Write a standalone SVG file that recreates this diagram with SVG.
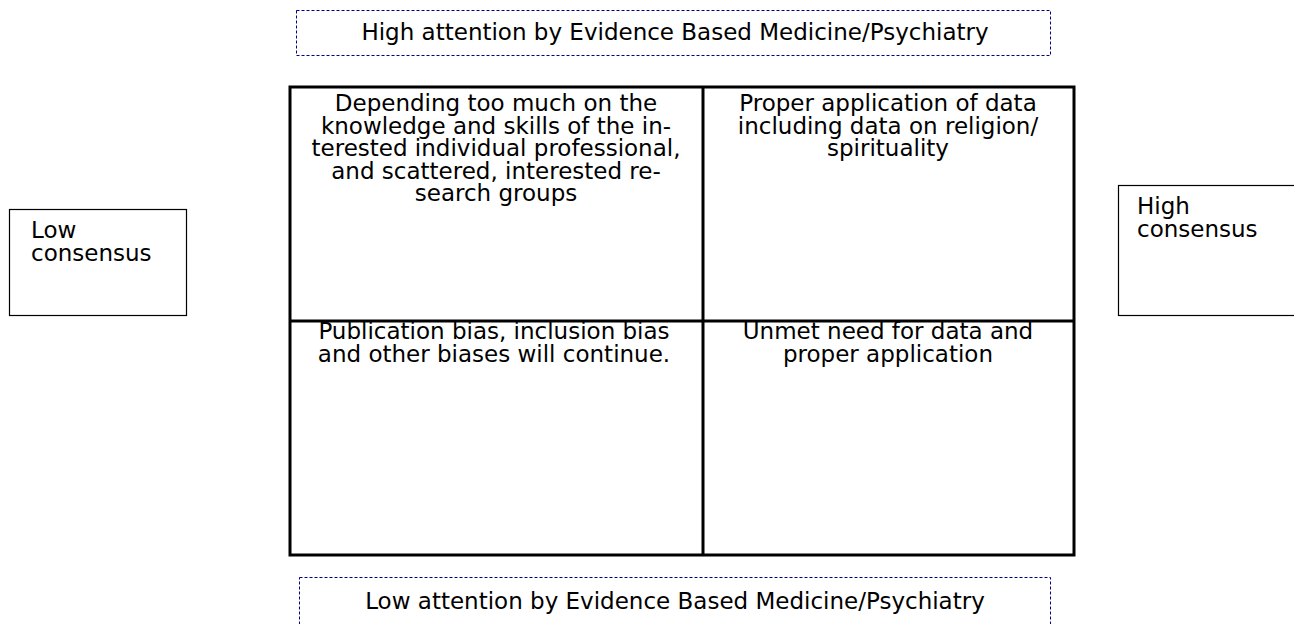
<svg xmlns="http://www.w3.org/2000/svg" width="1294" height="624" viewBox="0 0 1294 624">
<style>
text{font-family:"DejaVu Sans","Liberation Sans",sans-serif;font-size:23px;fill:#000}
.c{text-anchor:middle}
.dash{fill:none;stroke:#00008b;stroke-width:1;stroke-dasharray:3 2}
.box{fill:none;stroke:#000;stroke-width:1.2}
.grid{fill:none;stroke:#000;stroke-width:3}
</style>
<rect width="1294" height="624" fill="#fff"/>
<g id="top-label">
<rect class="dash" x="296.5" y="10.5" width="754" height="45"/>
<text class="c" x="675" y="40">High attention by Evidence Based Medicine/Psychiatry</text>
</g>
<g id="bottom-label">
<rect class="dash" x="299.5" y="577.5" width="751" height="60"/>
<text class="c" x="675" y="609">Low attention by Evidence Based Medicine/Psychiatry</text>
</g>
<g id="low-consensus">
<rect class="box" x="9.5" y="209.5" width="177" height="106"/>
<text x="31" y="238">Low</text>
<text x="31" y="261">consensus</text>
</g>
<g id="high-consensus">
<rect class="box" x="1118.5" y="185.5" width="190" height="130"/>
<text x="1137" y="214">High</text>
<text x="1137" y="237">consensus</text>
</g>
<g id="grid">
<rect class="grid" x="290" y="87" width="784" height="468"/>
<line class="grid" x1="703" y1="87" x2="703" y2="555"/>
<line class="grid" x1="290" y1="321" x2="1074" y2="321"/>
</g>
<g id="cell-tl">
<text class="c" x="496" y="111">Depending too much on the</text>
<text class="c" x="496" y="133.5">knowledge and skills of the in-</text>
<text class="c" x="496" y="156">terested individual professional,</text>
<text class="c" x="496" y="178.5">and scattered, interested re-</text>
<text class="c" x="496" y="201">search groups</text>
</g>
<g id="cell-tr">
<text class="c" x="888" y="111">Proper application of data</text>
<text class="c" x="888" y="133.5">including data on religion/</text>
<text class="c" x="888" y="156">spirituality</text>
</g>
<g id="cell-bl">
<text class="c" x="494" y="339">Publication bias, inclusion bias</text>
<text class="c" x="494" y="361.5">and other biases will continue.</text>
</g>
<g id="cell-br">
<text class="c" x="888" y="339">Unmet need for data and</text>
<text class="c" x="888" y="361.5">proper application</text>
</g>
</svg>
